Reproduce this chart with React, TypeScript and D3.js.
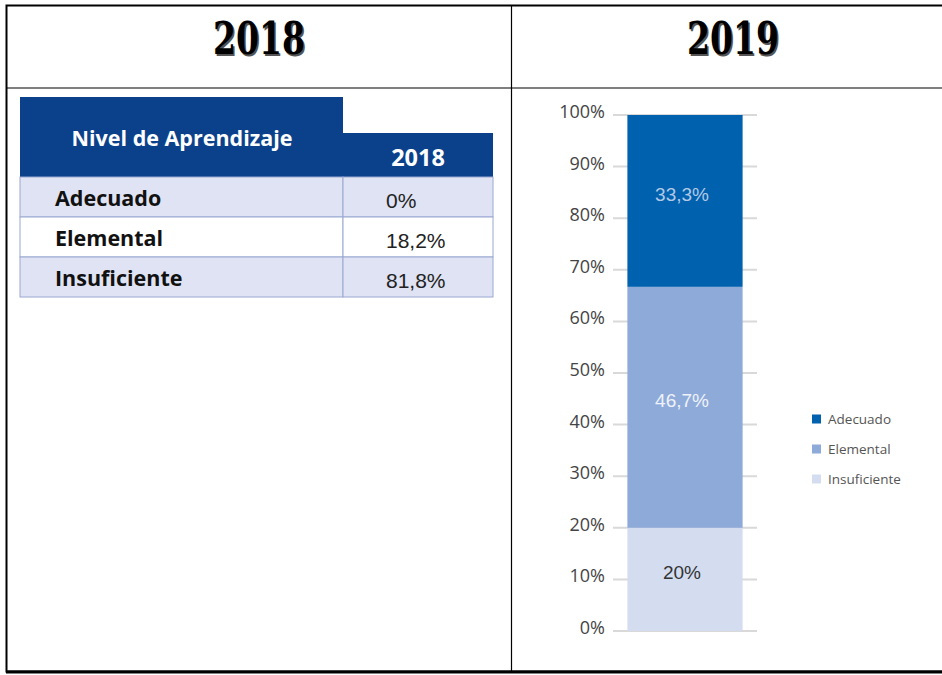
import React from "react";
import * as d3 from "d3";

const levels = ["Adecuado", "Elemental", "Insuficiente"];
const values2018 = ["0%", "18,2%", "81,8%"];
const values2019 = [33.3, 46.7, 20];
const labels2019 = ["33,3%", "46,7%", "20%"];
const yTicks = [0, 10, 20, 30, 40, 50, 60, 70, 80, 90, 100];
const category = ["2019"];

const segColors = ["#0061ae", "#8eaad9", "#d4ddf0"];
const segText = ["#b4c9e6", "#eef2fa", "#333333"];

export default function App() {
  const W = 942, H = 675;
  const y = d3.scaleLinear().domain([0, 100]).range([631, 115]);
  const x = d3.scaleBand().domain(category).range([613, 757]).paddingInner(0.2).paddingOuter(0.1);
  const bx = x("2019")!;
  const bw = x.bandwidth();

  const order = [2, 1, 0];
  let cum = 0;
  const segs: { i: number; y0: number; y1: number }[] = [];
  order.forEach((i) => {
    segs.push({ i, y0: cum, y1: cum + values2019[i] });
    cum += values2019[i];
  });

  const rowY = d3.scaleBand().domain(levels).range([177, 297]);
  const rowFill = ["#dfe3f3", "#ffffff", "#dfe3f3"];
  const sans = "'Open Sans', 'Noto Sans', sans-serif";

  return (
    <svg width={W} height={H} style={{ position: "absolute", left: 0, top: 0, background: "#fff" }}>
      <rect x={6.5} y={5.5} width={945} height={666} fill="none" stroke="#000" strokeWidth={2} />
      <line x1={6} x2={942} y1={88} y2={88} stroke="#000" strokeWidth={1.2} />
      <line x1={511.5} x2={511.5} y1={5} y2={672} stroke="#000" strokeWidth={1.2} />
      <line x1={6} x2={942} y1={672} y2={672} stroke="#000" strokeWidth={3} />

      {/* titles */}
      {[["2018", 259], ["2019", 733]].map(([t, cx]) => (
        <g key={t as string}>
          <text x={(cx as number) + 1.5} y={55.5} textAnchor="middle" fontFamily="'DejaVu Serif', serif" fontWeight="bold" fontSize={44} textLength={92} lengthAdjust="spacingAndGlyphs" fill="#555">{t}</text>
          <text x={cx as number} y={54} textAnchor="middle" fontFamily="'DejaVu Serif', serif" fontWeight="bold" fontSize={44} textLength={92} lengthAdjust="spacingAndGlyphs" fill="#000">{t}</text>
        </g>
      ))}

      {/* table 2018 */}
      <rect x={20} y={97} width={323} height={80} fill="#0b418b" />
      <rect x={343} y={133} width={150} height={44} fill="#0b418b" />
      <text x={182} y={146} textAnchor="middle" fontFamily={sans} fontWeight="bold" fontSize={21.5} fill="#fff">Nivel de Aprendizaje</text>
      <text x={418} y={166} textAnchor="middle" fontFamily={sans} fontWeight="bold" fontSize={23.5} fill="#fff">2018</text>
      {levels.map((lv, i) => {
        const ry = rowY(lv)!;
        const rh = rowY.bandwidth();
        return (
          <g key={lv}>
            <rect x={20} y={ry} width={323} height={rh} fill={rowFill[i]} stroke="#9aa8d2" strokeWidth={1} />
            <rect x={343} y={ry} width={150} height={rh} fill={rowFill[i]} stroke="#9aa8d2" strokeWidth={1} />
            <text x={55} y={ry + 29} fontFamily={sans} fontWeight="bold" fontSize={21.5} fill="#111">{lv}</text>
            <text x={386} y={ry + 31} fontFamily="'Liberation Sans', Arial, sans-serif" fontSize={21} fill="#222">{values2018[i]}</text>
          </g>
        );
      })}

      {/* chart 2019 */}
      {yTicks.map((t) => (
        <g key={t}>
          <line x1={613} x2={757} y1={y(t)} y2={y(t)} stroke="#d9d9d9" strokeWidth={2} />
          <text x={605} y={y(t) + 3} textAnchor="end" fontFamily={sans} fontSize={18} fill="#444">{t}%</text>
        </g>
      ))}
      {segs.map((s) => (
        <g key={s.i}>
          <rect x={bx} y={y(s.y1)} width={bw} height={y(s.y0) - y(s.y1)} fill={segColors[s.i]} />
          <text x={bx + bw / 2 - 3} y={(y(s.y0) + y(s.y1)) / 2} textAnchor="middle" fontFamily="'Liberation Sans', Arial, sans-serif" fontSize={19} fill={segText[s.i]}>{labels2019[s.i]}</text>
        </g>
      ))}

      {/* legend */}
      {levels.map((lv, i) => (
        <g key={lv} transform={`translate(812, ${419 + i * 30})`}>
          <rect x={0} y={-4.5} width={9} height={9} fill={segColors[i]} />
          <text x={16} y={5} fontFamily={sans} fontSize={13.5} fill="#555">{lv}</text>
        </g>
      ))}
    </svg>
  );
}
